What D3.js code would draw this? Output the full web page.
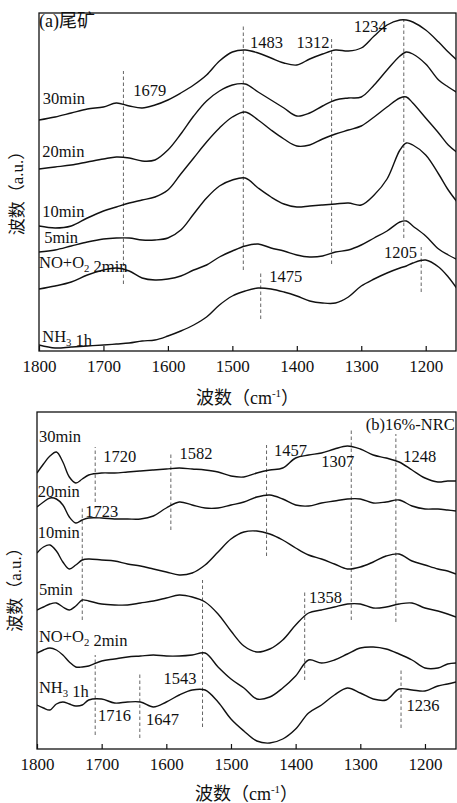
<!DOCTYPE html>
<html lang="zh">
<head>
  <meta charset="UTF-8">
  <title>in-situ DRIFTS</title>
  <script src="https://cdn.jsdelivr.net/npm/d3@7/dist/d3.min.js"></script>
  <style>
    html, body { margin: 0; padding: 0; background: #fff; }
    svg text {
      font-family: "Liberation Serif", "Times New Roman", "Noto Sans CJK SC", serif;
      fill: #111;
    }
  </style>
</head>
<body>
<svg id="chart" width="457" height="803"></svg>
<script>
  // ---- data ----
  const xTicks = [1800, 1700, 1600, 1500, 1400, 1300, 1200];

  // (a) 尾矿
  const gridA = [1800, 1775, 1750, 1725, 1700, 1680, 1660, 1640, 1620, 1600, 1580, 1560, 1540, 1520, 1500,
    1480, 1460, 1440, 1420, 1400, 1380, 1360, 1340, 1320, 1300, 1280, 1260, 1240, 1230, 1220, 1200, 1180, 1165, 1150];
  const a30 = [231, 234, 238, 242, 244, 248, 245, 243, 246, 251, 258, 266, 276, 290, 299,
    301, 298, 293, 288, 286, 292, 297, 301, 300, 303, 315, 326, 331, 331, 329, 321, 309, 299, 290];
  const a20 = [182, 184, 186, 189, 192, 194, 193, 190, 191, 201, 217, 235, 250, 260, 266,
    267, 259, 251, 243, 235, 238, 245, 251, 253, 254, 266, 281, 295, 299, 297, 287, 271, 264, 258];
  const a10 = [125, 123, 125, 133, 140, 144, 148, 151, 154, 161, 177, 193, 209, 223, 234,
    239, 231, 221, 212, 205, 206, 212, 217, 221, 225, 234, 244, 253, 254, 248, 233, 218, 206, 198];
  const a5 = [99, 101, 105, 109, 112, 113, 113, 111, 111, 113, 121, 137, 153, 165, 171,
    173, 163, 154, 147, 144, 145, 146, 147, 148, 146, 156, 172, 201, 208, 206, 196, 177, 161, 148];
  const aNO = [62, 65, 69, 76, 81, 83, 80, 73, 71, 72, 75, 81, 86, 94, 100,
    105, 107, 103, 100, 96, 94, 95, 99, 101, 106, 113, 120, 129, 130, 125, 115, 102, 96, 91];
  const aNH3 = [6, 3, 4, 5, 6, 7, 8, 10, 11, 15, 20, 26, 34, 46, 55,
    60, 63, 62, 59, 55, 50, 48, 48, 54, 65, 72, 78, 83, 85, 88, 91, 84, 74, 61];

  const namesA = ["30min", "20min", "10min", "5min", "NO+O_2 2min", "NH_3 1h"];
  const nameAtA = [[1794, 247], [1795, 194], [1795, 134], [1792, 108], [1800, 83], [1795, 9]];
  // dashed marker: [wavenumber, from, to]
  const marksA = [[1669, 67, 280], [1483, 81, 326], [1346, 87, 312], [1234, 113, 331], [1456, 32, 79], [1207, 59, 104]];
  const peakTextA = ["1679", "1483", "1312", "1234", "1475", "1205"];
  const peakAtA = [[1628, 255], [1447, 303], [1375, 303], [1286, 319], [1417, 69], [1239, 93]];

  // (b) 16%-NRC
  const gridB = [1800, 1790, 1780, 1770, 1760, 1750, 1740, 1730, 1720, 1700, 1680, 1660, 1640, 1620, 1600,
    1580, 1560, 1540, 1520, 1500, 1480, 1460, 1440, 1420, 1400, 1380, 1360, 1340, 1320, 1300,
    1280, 1260, 1240, 1220, 1200, 1180, 1165, 1152];
  const b30 = [276, 285, 293, 297, 287, 272, 266, 270, 274, 276, 276, 277, 278, 279, 280,
    281, 280, 279, 277, 273, 272, 276, 279, 281, 291, 294, 296, 300, 303, 300,
    294, 291, 287, 279, 271, 267, 268, 268];
  const b20 = [242, 247, 251, 250, 244, 232, 226, 229, 231, 231, 230, 230, 230, 233, 241,
    247, 244, 241, 241, 244, 247, 252, 254, 250, 244, 243, 246, 248, 250, 250,
    246, 247, 249, 243, 240, 240, 239, 238];
  const b10 = [196, 202, 204, 198, 187, 180, 184, 189, 190, 189, 188, 185, 183, 180, 177,
    174, 176, 184, 197, 210, 217, 218, 215, 209, 201, 194, 190, 185, 180, 182,
    187, 193, 195, 188, 184, 180, 178, 175];
  const b5 = [139, 142, 145, 146, 142, 139, 143, 149, 148, 145, 144, 144, 146, 148, 151,
    154, 152, 147, 135, 118, 103, 97, 100, 109, 124, 136, 139, 142, 145, 145,
    141, 142, 145, 146, 141, 138, 135, 132];
  const bNO = [96, 99, 101, 99, 94, 87, 82, 82, 83, 88, 90, 92, 93, 94, 93,
    93, 94, 96, 82, 70, 61, 50, 52, 61, 73, 89, 86, 89, 95, 101,
    102, 100, 95, 89, 81, 81, 85, 86];
  const bNH3 = [44, 41, 39, 45, 47, 45, 43, 44, 49, 50, 46, 47, 47, 42, 47,
    54, 59, 59, 47, 30, 18, 8, 6, 10, 20, 36, 44, 54, 61, 56,
    50, 49, 60, 59, 58, 63, 65, 67];

  const namesB = ["30min", "20min", "10min", "5min", "NO+O_2 2min", "NH_3 1h"];
  const nameAtB = [[1797, 307], [1799, 252], [1799, 211], [1797, 154], [1797, 107], [1797, 56]];
  const marksB = [[1710, 247, 302], [1730, 129, 242], [1593, 219, 297], [1445, 193, 304], [1314, 129, 320],
    [1245, 127, 315], [1386, 69, 157], [1544, 22, 169], [1710, 14, 94], [1641, 11, 77], [1237, 21, 81]];
  const peakTextB = ["1720", "1723", "1582", "1457", "1307", "1248", "1358", "1543", "1716", "1647", "1236"];
  const peakAtB = [[1672, 287], [1700, 232], [1554, 290], [1408, 293], [1335, 282], [1208, 287],
    [1354, 146], [1579, 65], [1680, 28], [1606, 24], [1203, 38]];

  // ---- drawing ----
  const svg = d3.select('#chart');

  function labelText(sel, str, size) {
    // "_2" -> subscript 2
    str.split(/(_\d)/).filter(s => s.length).forEach(part => {
      if (part[0] === '_') {
        sel.append('tspan').attr('font-size', size * 0.65).attr('dy', 4).text(part.slice(1));
        sel.append('tspan').attr('dy', -4).text('');
      } else {
        sel.append('tspan').text(part);
      }
    });
  }

  function panel(cfg) {
    const {left, right, top, bottom, id} = cfg;
    const x = d3.scaleLinear().domain([1800, cfg.xEnd]).range([left, right]);
    const y = d3.scaleLinear().domain([0, bottom - top]).range([bottom, top]);
    const g = svg.append('g');

    g.append('clipPath').attr('id', id)
      .append('rect').attr('x', left).attr('y', top).attr('width', right - left).attr('height', bottom - top);

    // dashed markers
    g.append('g').selectAll('line').data(cfg.marks).join('line')
      .attr('x1', d => x(d[0])).attr('x2', d => x(d[0]))
      .attr('y1', d => y(d[1])).attr('y2', d => y(d[2]))
      .attr('stroke', '#555').attr('stroke-width', 0.9)
      .attr('stroke-dasharray', '3.5,2.5');

    const line = d3.line()
      .x((d, i) => x(cfg.grid[i]))
      .y(d => y(d))
      .curve(d3.curveCatmullRom.alpha(0.5));

    g.append('g').attr('clip-path', `url(#${id})`)
      .selectAll('path').data(cfg.series).join('path')
      .attr('d', line)
      .attr('fill', 'none')
      .attr('stroke', '#111')
      .attr('stroke-width', 1.4);

    // axis
    const axis = d3.axisBottom(x).tickValues(xTicks)
      .tickSizeInner(-5).tickSizeOuter(0).tickPadding(9)
      .tickFormat(d3.format('d'));
    const ax = g.append('g').attr('transform', `translate(0,${bottom})`).call(axis);
    ax.select('.domain').remove();
    ax.selectAll('.tick line').attr('stroke', '#111').attr('stroke-width', 1.2);
    ax.selectAll('.tick text')
      .attr('font-size', 17)
      .attr('font-family', '"Liberation Serif", "Times New Roman", serif')
      .attr('fill', '#111');

    // frame
    g.append('rect')
      .attr('x', left).attr('y', top)
      .attr('width', right - left).attr('height', bottom - top)
      .attr('fill', 'none').attr('stroke', '#111').attr('stroke-width', 1.3);

    // series names
    cfg.names.forEach((n, i) => {
      const t = g.append('text')
        .attr('x', x(cfg.nameAt[i][0]))
        .attr('y', y(cfg.nameAt[i][1]))
        .attr('font-size', 16.5);
      labelText(t, n, 16.5);
    });

    // peak labels
    g.append('g').selectAll('text').data(cfg.peakText).join('text')
      .attr('x', (d, i) => x(cfg.peakAt[i][0]))
      .attr('y', (d, i) => y(cfg.peakAt[i][1]))
      .attr('text-anchor', 'middle')
      .attr('font-size', 16.5)
      .text(d => d);

    // panel title
    g.append('text')
      .attr('x', x(cfg.titleAt[0])).attr('y', y(cfg.titleAt[1]))
      .attr('text-anchor', cfg.titleAnchor)
      .attr('font-size', cfg.titleSize)
      .text(cfg.title);

    // x title
    const xt = g.append('text')
      .attr('x', (left + right) / 2).attr('y', cfg.xTitleY)
      .attr('text-anchor', 'middle')
      .attr('font-size', 18);
    xt.append('tspan').text('波数（cm');
    xt.append('tspan').attr('font-size', 11).attr('dy', -7).text('-1');
    xt.append('tspan').attr('dy', 7).text('）');

    // y title
    g.append('text')
      .attr('transform', `translate(${cfg.yTitleX},${(top + bottom) / 2 + cfg.yTitleShift}) rotate(-90)`)
      .attr('text-anchor', 'middle')
      .attr('font-size', 17)
      .text('波数（a.u.）');
  }

  panel({
    id: 'clipA', left: 39, right: 456, top: 13, bottom: 351, xEnd: 1153,
    grid: gridA, series: [a30, a20, a10, a5, aNO, aNH3],
    names: namesA, nameAt: nameAtA,
    marks: marksA, peakText: peakTextA, peakAt: peakAtA,
    title: '(a)尾矿', titleAt: [1800, 324], titleAnchor: 'start', titleSize: 18,
    xTitleY: 404, yTitleX: 23, yTitleShift: 7
  });

  panel({
    id: 'clipB', left: 37, right: 456, top: 412, bottom: 749, xEnd: 1152,
    grid: gridB, series: [b30, b20, b10, b5, bNO, bNH3],
    names: namesB, nameAt: nameAtB,
    marks: marksB, peakText: peakTextB, peakAt: peakAtB,
    title: '(b)16%-NRC', titleAt: [1154, 319], titleAnchor: 'end', titleSize: 16.5,
    xTitleY: 800, yTitleX: 21, yTitleShift: 5
  });
</script>
</body>
</html>
